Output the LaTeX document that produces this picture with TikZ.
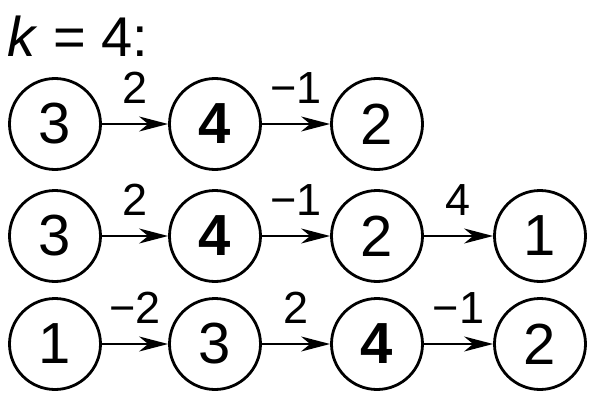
\documentclass[tikz,border=0pt]{standalone}
\usepackage{fontspec}
\setmainfont{Liberation Sans}
\usetikzlibrary{arrows.meta}
\tikzset{
  x=1pt, y=-1pt,
  nd/.style={circle, draw, line width=2.8pt, minimum size=91pt, inner sep=0pt,
    font=\fontsize{58}{60}\selectfont},
  arr/.style={line width=1.8pt, -{Stealth[length=29pt, width=15pt, inset=9pt]}},
  lbl/.style={anchor=base, yshift=21pt, font=\fontsize{45}{46}\selectfont, inner sep=0pt}
}
\begin{document}
\begin{tikzpicture}
\useasboundingbox (0,0) rectangle (605,412);
\node[anchor=base west, inner sep=0pt, font=\fontsize{56}{58}\selectfont] (title) at (7,57) {\textit{k} = 4:};
% row 1
\node[nd] (a1) at (55,124) {3};
\node[nd] (a2) at (215,124) {\textbf{4}};
\node[nd] (a3) at (377,124) {2};
\draw[arr] (a1) -- node[lbl] {2} (a2);
\draw[arr] (a2) -- node[lbl] {−1} (a3);
% row 2
\node[nd] (b1) at (55,236) {3};
\node[nd] (b2) at (215,236) {\textbf{4}};
\node[nd] (b3) at (377,236) {2};
\node[nd] (b4) at (540,236) {1};
\draw[arr] (b1) -- node[lbl] {2} (b2);
\draw[arr] (b2) -- node[lbl] {−1} (b3);
\draw[arr] (b3) -- node[lbl] {4} (b4);
% row 3
\node[nd] (c1) at (55,344) {1};
\node[nd] (c2) at (215,344) {3};
\node[nd] (c3) at (377,344) {\textbf{4}};
\node[nd] (c4) at (540,344) {2};
\draw[arr] (c1) -- node[lbl] {−2} (c2);
\draw[arr] (c2) -- node[lbl] {2} (c3);
\draw[arr] (c3) -- node[lbl] {−1} (c4);
\end{tikzpicture}
\end{document}
